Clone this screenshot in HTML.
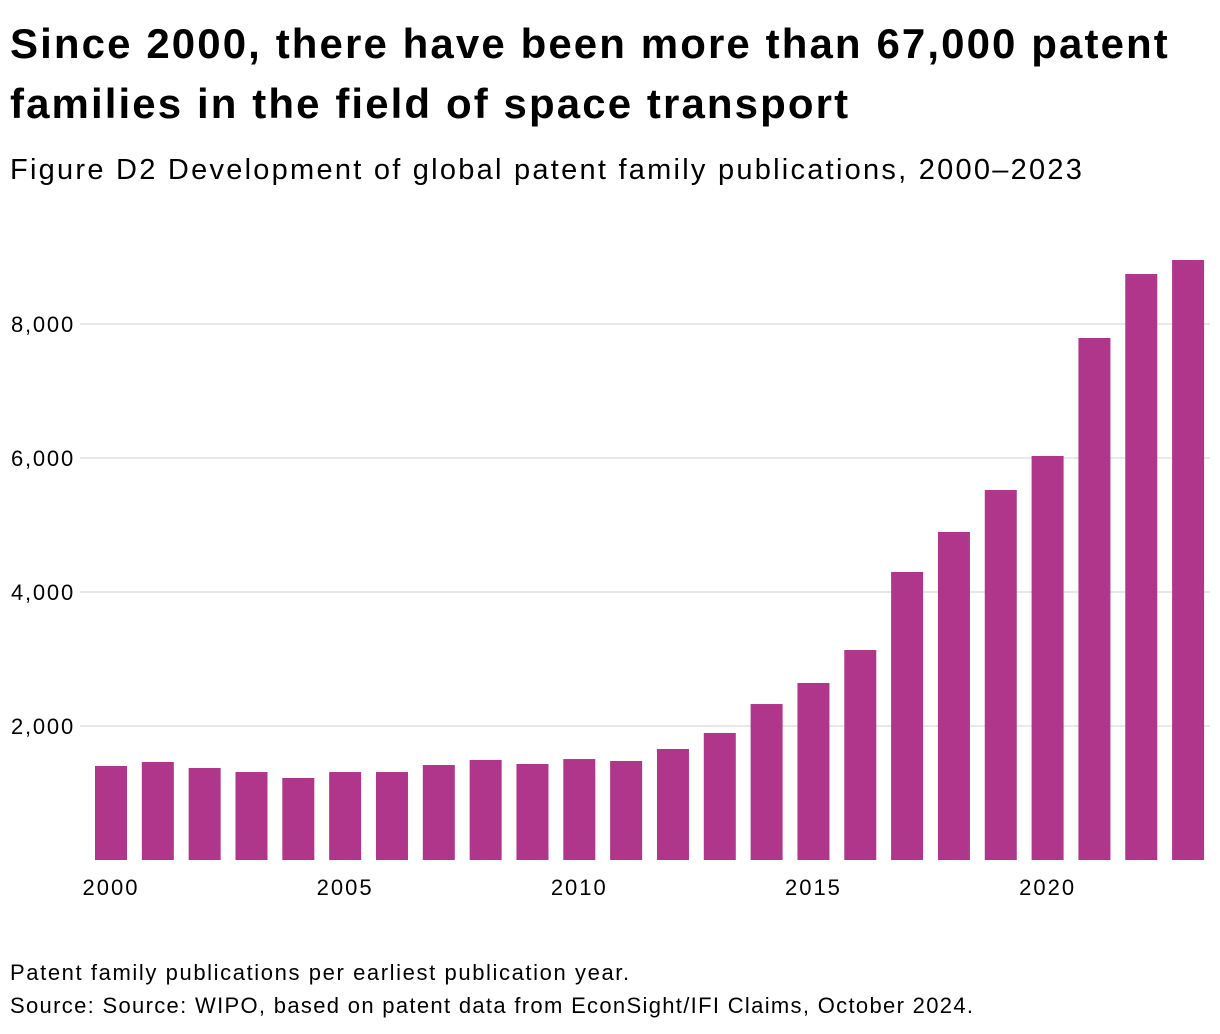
<!DOCTYPE html>
<html><head><meta charset="utf-8"><style>
body{margin:0;background:#fff;width:1220px;height:1034px;overflow:hidden;font-family:"Liberation Sans",sans-serif;color:#000}
#title{position:absolute;left:10px;top:14px;font-size:42px;font-weight:bold;line-height:60px;margin:0;letter-spacing:2.1px;white-space:nowrap}
#subtitle{position:absolute;left:10px;top:154px;font-size:29px;letter-spacing:2.25px;white-space:nowrap}
.note{position:absolute;left:10px;font-size:22px;white-space:nowrap}
svg{position:absolute;left:0;top:0}
</style></head><body>
<h1 id="title">Since 2000, there have been more than 67,000 patent<br>families in the field of space transport</h1>
<div id="subtitle">Figure D2 Development of global patent family publications, 2000–2023</div>
<svg id="chart" width="1220" height="1034"></svg>
<div class="note" style="top:960px;letter-spacing:1.6px">Patent family publications per earliest publication year.</div>
<div class="note" style="top:993px;letter-spacing:1.32px">Source: Source: WIPO, based on patent data from EconSight/IFI Claims, October 2024.</div>
<script>
const years=[2000,2001,2002,2003,2004,2005,2006,2007,2008,2009,2010,2011,2012,2013,2014,2015,2016,2017,2018,2019,2020,2021,2022,2023];
const values=[1403,1463,1373,1313,1224,1313,1313,1418,1493,1433,1507,1478,1657,1896,2328,2642,3134,4299,4896,5522,6030,7791,8746,8955];
const yTicks=[2000,4000,6000,8000];
const yTickLabels=["2,000","4,000","6,000","8,000"];
const xTicks=[2000,2005,2010,2015,2020];
const NS="http://www.w3.org/2000/svg";
const svg=document.getElementById('chart');
const y=v=>860-v*0.067;
const x=yr=>111+(yr-2000)*46.83;
const bw=32;
yTicks.forEach((t,i)=>{
  const l=document.createElementNS(NS,'line');
  l.setAttribute('x1',80);l.setAttribute('x2',1210);l.setAttribute('y1',y(t));l.setAttribute('y2',y(t));
  l.setAttribute('stroke','#e0e0e0');l.setAttribute('stroke-width',1.5);
  
  
  svg.appendChild(l);
  const tx=document.createElementNS(NS,'text');
  tx.setAttribute('x',75);tx.setAttribute('y',y(t)+8);tx.setAttribute('text-anchor','end');
  tx.setAttribute('font-size','22');tx.setAttribute('letter-spacing','1.8');tx.setAttribute('font-family','Liberation Sans, sans-serif');
  tx.textContent=yTickLabels[i];
  
  
  svg.appendChild(tx);
});
years.forEach((yr,i)=>{
  const r=document.createElementNS(NS,'rect');
  r.setAttribute('x',x(yr)-bw/2);r.setAttribute('width',bw);
  r.setAttribute('y',y(values[i]));r.setAttribute('height',860-y(values[i]));
  r.setAttribute('fill','#b0368c');
  
  
  svg.appendChild(r);
});
xTicks.forEach(t=>{
  const tx=document.createElementNS(NS,'text');
  tx.setAttribute('x',x(t));tx.setAttribute('y',895);tx.setAttribute('text-anchor','middle');
  tx.setAttribute('font-size','22');tx.setAttribute('letter-spacing','2');tx.setAttribute('font-family','Liberation Sans, sans-serif');
  tx.textContent=t;
  
  
  svg.appendChild(tx);
});
</script>
</body></html>
